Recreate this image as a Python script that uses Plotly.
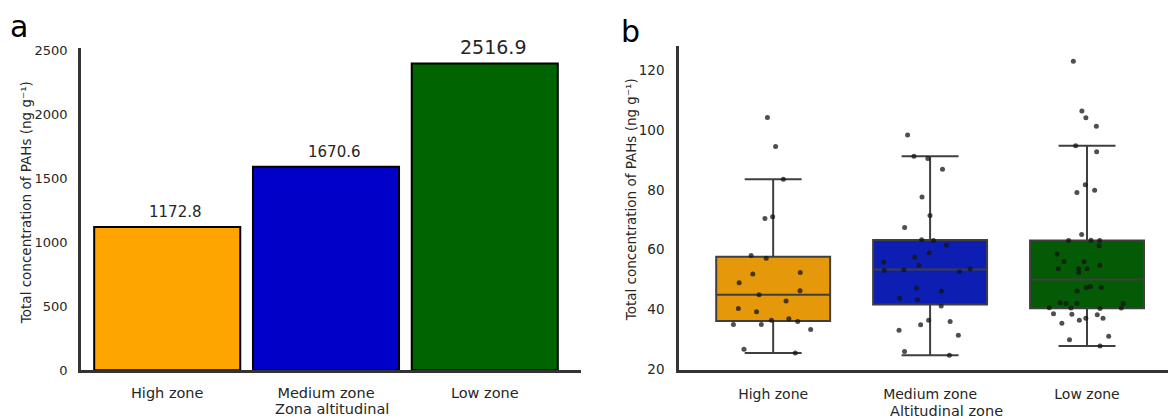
import numpy as np
import plotly.graph_objects as go

# ---------------- data ----------------
zones = ["High zone", "Medium zone", "Low zone"]

# panel a: bar heights (as drawn) and printed value labels
total_bar = [1120, 1591, 2399]
total_labels = ["1172.8", "1670.6", "2516.9"]

# panel b: individual sample concentrations (ng g-1)
high_vals = [104.2, 94.5, 83.5, 70.4, 71.0, 58.0, 57.1, 52.3, 51.8, 48.9, 46.2,
             44.9, 42.8, 40.3, 39.2, 36.8, 36.3, 35.9, 34.9, 34.9, 33.2, 26.6, 25.4]
medium_vals = [98.3, 91.2, 90.5, 86.9, 77.6, 71.4, 67.4, 63.3, 63.0, 61.4, 58.9,
               57.4, 55.7, 54.7, 53.5, 53.2, 53.0, 52.6, 47.1, 46.1, 43.7, 43.2,
               41.1, 36.3, 35.9, 34.8, 33.0, 31.3, 25.9, 24.6]
low_vals = [123.0, 106.4, 104.1, 101.3, 94.7, 92.7, 81.7, 79.8, 79.1, 65.0, 63.1,
            63.0, 63.0, 61.3, 58.5, 55.9, 56.0, 54.7, 53.6, 53.6, 53.6, 52.3, 47.6,
            47.3, 47.3, 46.1, 42.2, 41.9, 41.9, 41.9, 40.4, 40.4, 40.5, 40.3, 38.5,
            38.3, 38.2, 37.0, 37.0, 36.3, 35.3, 29.8, 31.0, 27.7]
samples = [high_vals, medium_vals, low_vals]

y_ticks_a = [0, 500, 1000, 1500, 2000, 2500]
y_ticks_b = [20, 40, 60, 80, 100, 120]

# ---------------- styles ----------------
bar_colors = ["#FFA500", "#0000C8", "#006400"]
box_colors = ["#E5980A", "#0D1EB3", "#055A05"]
label_sizes = [15, 15, 19]
FONT = "DejaVu Sans"
TXT = "#262626"
SPINE = "#333333"
W, H = 1168, 420


def box_stats(v):
    a = np.sort(np.asarray(v, dtype=float))
    q1, med, q3 = np.percentile(a, [25, 50, 75])
    iqr = q3 - q1
    lo = a[a >= q1 - 1.5 * iqr].min()
    hi = a[a <= q3 + 1.5 * iqr].max()
    return q1, med, q3, lo, hi


fig = go.Figure()

# panel a bars
fig.add_trace(go.Bar(
    x=zones, y=total_bar, width=0.92,
    marker=dict(color=bar_colors, line=dict(color="black", width=2)),
    xaxis="x", yaxis="y", showlegend=False, hoverinfo="skip",
))

# panel b boxes + jittered points
for zone, vals, col in zip(zones, samples, box_colors):
    q1, med, q3, lo, hi = box_stats(vals)
    fig.add_trace(go.Box(
        x=[zone], q1=[q1], median=[med], q3=[q3],
        lowerfence=[lo], upperfence=[hi],
        fillcolor=col, line=dict(color="#3f3f3f", width=2),
        width=0.726, whiskerwidth=0.5, boxpoints=False,
        xaxis="x2", yaxis="y2", showlegend=False, hoverinfo="skip",
    ))
for zone, vals in zip(zones, samples):
    fig.add_trace(go.Box(
        x=[zone] * len(vals), y=vals,
        boxpoints="all", jitter=0.95, pointpos=0,
        fillcolor="rgba(0,0,0,0)", line=dict(color="rgba(0,0,0,0)", width=0),
        marker=dict(color="rgba(20,20,20,0.75)", size=5, line=dict(width=0)),
        width=0.726, xaxis="x2", yaxis="y2", showlegend=False, hoverinfo="skip",
    ))

axis_common = dict(showline=True, linecolor=SPINE, linewidth=2.5, showgrid=False,
                   zeroline=False, ticks="", mirror=False)

fig.update_layout(
    width=W, height=H, margin=dict(l=0, r=0, t=0, b=0),
    plot_bgcolor="white", paper_bgcolor="white",
    font=dict(family=FONT, color=TXT),
    boxmode="overlay",
    xaxis=dict(domain=[81 / W, 581 / W], range=[-0.543, 2.606], type="category",
               anchor="y", tickfont=dict(size=14.5), ticklabelstandoff=8, **axis_common),
    yaxis=dict(domain=[1 - 377 / H, 1 - 45 / H], range=[0, 2523], anchor="x",
               tickvals=y_ticks_a, tickfont=dict(size=13), ticklabelstandoff=8,
               **axis_common),
    xaxis2=dict(domain=[679 / W, 1.0], range=[-0.6, 2.516], type="category",
                anchor="y2", tickfont=dict(size=14), ticklabelstandoff=9, **axis_common),
    yaxis2=dict(domain=[1 - 377 / H, 1 - 43 / H], range=[19.6, 128.2], anchor="x2",
                tickvals=y_ticks_b, tickfont=dict(size=13.5), ticklabelstandoff=9,
                **axis_common),
)

ann = []
# value labels over bars
for zone, v, t, s in zip(zones, total_bar, total_labels, label_sizes):
    ann.append(dict(x=zone, y=v, xref="x", yref="y", text=t, showarrow=False,
                    xanchor="center", yanchor="bottom", yshift=4, xshift=8,
                    font=dict(size=s, color=TXT)))
# panel letters
ann.append(dict(x=8 / W, y=1 - 23 / H, xref="paper", yref="paper", text="a",
                showarrow=False, xanchor="left", yanchor="middle",
                font=dict(size=30, color="black")))
ann.append(dict(x=619 / W, y=1 - 28 / H, xref="paper", yref="paper", text="b",
                showarrow=False, xanchor="left", yanchor="middle",
                font=dict(size=30, color="black")))
# axis titles
ytitle = "Total concentration of PAHs (ng g⁻¹)"
ann.append(dict(x=26 / W, y=1 - 205 / H, xref="paper", yref="paper", text=ytitle,
                textangle=-90, showarrow=False, xanchor="center", yanchor="middle",
                font=dict(size=13.5, color=TXT)))
ann.append(dict(x=631 / W, y=1 - 202 / H, xref="paper", yref="paper", text=ytitle,
                textangle=-90, showarrow=False, xanchor="center", yanchor="middle",
                font=dict(size=13.5, color=TXT)))
ann.append(dict(x=332 / W, y=1 - 417 / H, xref="paper", yref="paper",
                text="Zona altitudinal", showarrow=False, xanchor="center",
                yanchor="middle", font=dict(size=14.5, color=TXT)))
ann.append(dict(x=946 / W, y=1 - 419 / H, xref="paper", yref="paper",
                text="Altitudinal zone", showarrow=False, xanchor="center",
                yanchor="middle", font=dict(size=14.5, color=TXT)))
fig.update_layout(annotations=ann)

fig.write_html("out.html")
